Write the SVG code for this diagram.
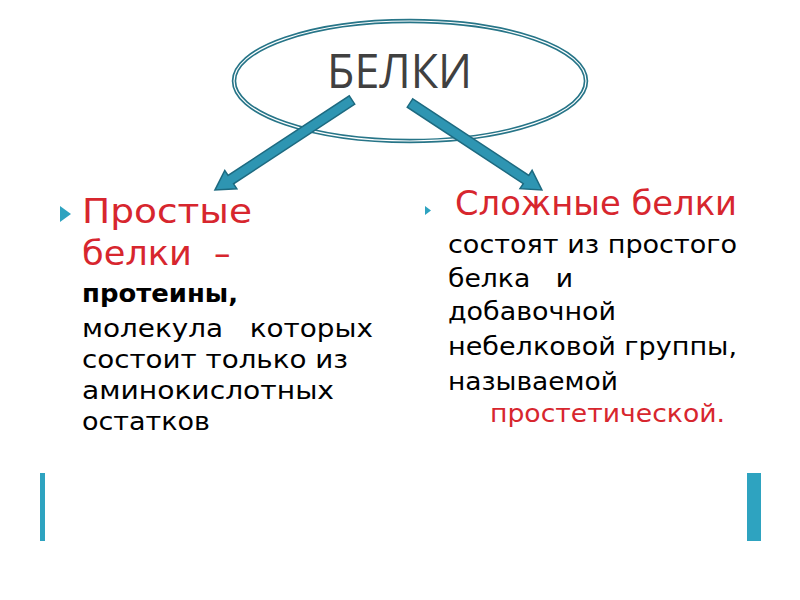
<svg xmlns="http://www.w3.org/2000/svg" width="800" height="600" viewBox="0 0 800 600">
<style>
text{white-space:pre}
.body{font-family:"DejaVu Sans","Noto Sans",sans-serif;font-size:24px;fill:#000}
.red{fill:#D7262E}
.head{font-family:"DejaVu Sans","Noto Sans",sans-serif;font-size:33px;fill:#D7262E}
.arrow{fill:#2E95B2;stroke:#1D6A80;stroke-width:1.5;stroke-linejoin:miter}
.bar{fill:#2EA3C0}
.bullet{fill:#2EA3C0}
</style>
<rect width="800" height="600" fill="#fff"/>
<g id="belki">
<ellipse cx="410" cy="81" rx="176" ry="60" fill="none" stroke="#277588" stroke-width="4.5"/>
<ellipse cx="410" cy="81" rx="176" ry="60" fill="none" stroke="#fff" stroke-width="1.2"/>
<text x="327" y="88" font-family="'Open Sans','Noto Sans',sans-serif" font-size="48" fill="#404040" textLength="145" lengthAdjust="spacingAndGlyphs">БЕЛКИ</text>
</g>
<g id="connectors">
<polygon class="arrow" transform="translate(352,100) rotate(146.7)" points="0,-5 145,-5 145,-11 164,0 145,11 145,5 0,5"/>
<polygon class="arrow" transform="translate(410,103) rotate(33.4)" points="0,-5 139,-5 139,-11 158,0 139,11 139,5 0,5"/>
</g>
<g id="simple">
<polygon class="bullet" points="60,206 60,222 71,214"/>
<text class="head" x="82" y="223" textLength="170" lengthAdjust="spacingAndGlyphs">Простые</text>
<text class="head" x="82" y="265" textLength="110" lengthAdjust="spacingAndGlyphs">белки</text>
<text class="head" x="214" y="265" font-size="20">–</text>
<text class="body" x="82" y="302" font-weight="bold" textLength="156" lengthAdjust="spacingAndGlyphs">протеины,</text>
<text class="body" x="82" y="337" textLength="291" lengthAdjust="spacingAndGlyphs">молекула   которых</text>
<text class="body" x="82" y="368" textLength="266" lengthAdjust="spacingAndGlyphs">состоит только из</text>
<text class="body" x="82" y="399" textLength="252" lengthAdjust="spacingAndGlyphs">аминокислотных</text>
<text class="body" x="82" y="430" textLength="128" lengthAdjust="spacingAndGlyphs">остатков</text>
</g>
<g id="complex">
<polygon class="bullet" points="425,206 425,215 431,210.5"/>
<text class="head" x="455" y="215" textLength="282" lengthAdjust="spacingAndGlyphs">Сложные белки</text>
<text class="body" x="448" y="253" textLength="289" lengthAdjust="spacingAndGlyphs">состоят из простого</text>
<text class="body" x="448" y="287" textLength="125" lengthAdjust="spacingAndGlyphs">белка   и</text>
<text class="body" x="448" y="320" textLength="168" lengthAdjust="spacingAndGlyphs">добавочной</text>
<text class="body" x="448" y="355" textLength="289" lengthAdjust="spacingAndGlyphs">небелковой группы,</text>
<text class="body" x="448" y="390" textLength="170" lengthAdjust="spacingAndGlyphs">называемой</text>
<text class="body red" x="490" y="422" textLength="235" lengthAdjust="spacingAndGlyphs">простетической.</text>
</g>
<g id="decor">
<rect class="bar" x="40" y="473" width="5" height="68"/>
<rect class="bar" x="747" y="473" width="14" height="68"/>
</g>
</svg>
